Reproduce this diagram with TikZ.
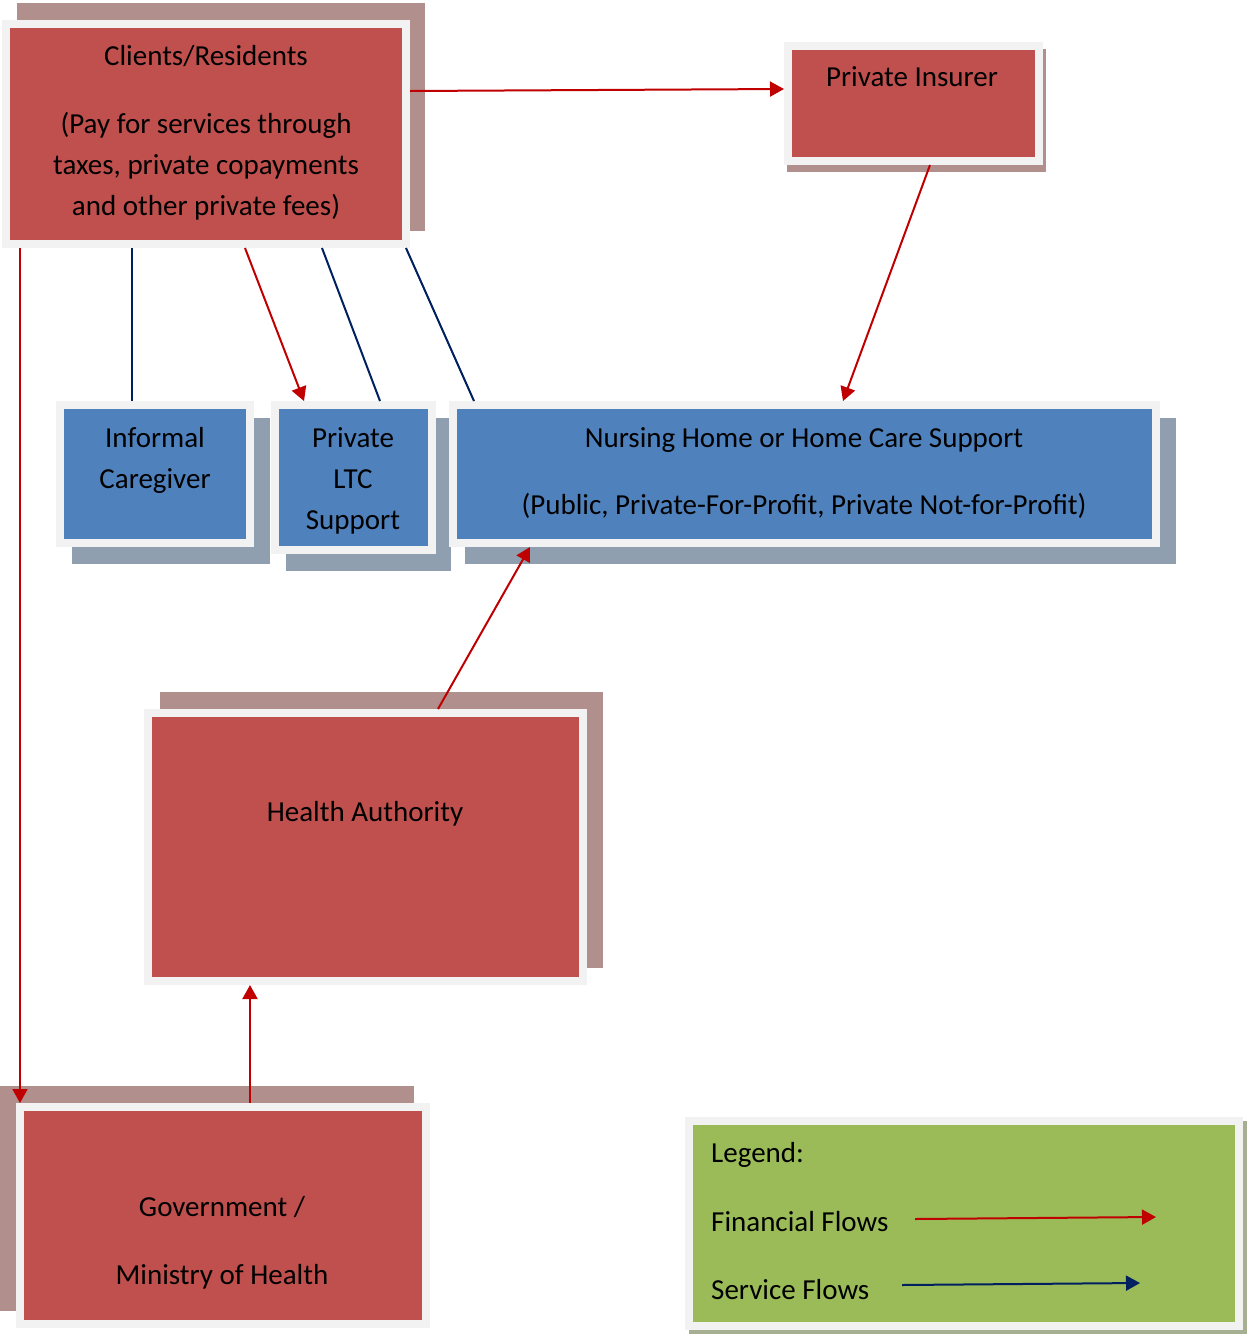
\documentclass[tikz,border=0pt]{standalone}
\usepackage{fontspec}
\setmainfont{Carlito}
\usepackage{tikz}
\usetikzlibrary{positioning,shadows,arrows.meta}

\definecolor{boxred}{HTML}{C0504D}
\definecolor{redshade}{HTML}{B08F8D}
\definecolor{boxblue}{HTML}{4F81BD}
\definecolor{blueshade}{HTML}{8F9FAF}
\definecolor{boxgreen}{HTML}{9BBB59}
\definecolor{greenshade}{HTML}{A6AF92}
\definecolor{rim}{HTML}{F2F2F2}
\definecolor{finred}{HTML}{C00000}
\definecolor{servnavy}{HTML}{002060}

\begin{document}
\begin{tikzpicture}[x=1pt,y=-1pt,
  redbox/.style={rectangle, draw=rim, line width=8pt, fill=boxred, inner sep=0pt},
  bluebox/.style={rectangle, draw=rim, line width=8pt, fill=boxblue, inner sep=0pt},
  greenbox/.style={rectangle, draw=rim, line width=8pt, fill=boxgreen, inner sep=0pt},
  shade/.style n args={3}{general shadow={fill=#1, draw=#1, line width=8pt, shadow xshift=#2, shadow yshift=#3}},
  txt/.style={align=center, inner sep=0pt, font=\fontsize{29}{41}\selectfont},
  finflow/.style={draw=finred, line width=2pt, -{Triangle[length=14pt,width=15pt]}},
  servflow/.style={draw=servnavy, line width=2pt},
]
\useasboundingbox (0,0) rectangle (1247,1334);

% boxes
\node(cli) [redbox, shade={redshade}{15pt}{17pt}, minimum width=400pt, minimum height=220pt] at (206,134) {};
\node(ins) [redbox, shade={redshade}{3pt}{-7pt}, minimum width=251pt, minimum height=115pt] at (913.5,103.5) {};
\node(inf) [bluebox, shade={blueshade}{16pt}{-17pt}, minimum width=190pt, minimum height=138pt] at (155,474) {};
\node(ltc) [bluebox, shade={blueshade}{15pt}{-17pt}, minimum width=157pt, minimum height=145pt] at (353.5,477.5) {};
\node(nur) [bluebox, shade={blueshade}{16pt}{-17pt}, minimum width=703pt, minimum height=138pt] at (804.5,474) {};
\node(ha) [redbox, shade={redshade}{16pt}{17pt}, minimum width=435pt, minimum height=268pt] at (365.5,847) {};
\node(gov) [redbox, shade={redshade}{-16pt}{17pt}, minimum width=406pt, minimum height=217pt] at (223,1215.5) {};
\node(leg) [greenbox, shade={greenshade}{4pt}{-4pt}, minimum width=550pt, minimum height=205pt] at (964,1223.5) {};

% texts
\node(cliT) [txt] at (206,133) {Clients/Residents\\[27pt](Pay for services through\\taxes, private copayments\\and other private fees)};
\node(insT) [txt] at (912,77) {Private Insurer};
\node(infT) [txt] at (155,460) {Informal\\Caregiver};
\node(ltcT) [txt] at (353,481) {Private\\LTC\\Support};
\node(nurT) [txt] at (804,473) {Nursing Home or Home Care Support\\[26pt](Public, Private-For-Profit, Private Not-for-Profit)};
\node(haT) [txt] at (365,814) {Health Authority};
\node(govT) [txt] at (222,1243) {Government /\\[27pt]Ministry of Health};
\node(legT) [txt, anchor=west] at (711,1155) {Legend:};
\node(finT) [txt, anchor=west] at (711,1222) {Financial Flows};
\node(servT) [txt, anchor=west] at (711,1290) {Service Flows};

% flows
\draw[finflow] ([yshift=43pt]cli.east) -- ([yshift=14.5pt]ins.west);
\draw[finflow] ([xshift=-186pt]cli.south) -- ([xshift=-203pt]gov.north);
\draw[servflow] ([xshift=-74pt]cli.south) -- ([xshift=-23pt]inf.north);
\draw[finflow] ([xshift=39pt]cli.south) -- ([xshift=-49.5pt]ltc.north);
\draw[servflow] ([xshift=116pt]cli.south) -- ([xshift=26.5pt]ltc.north);
\draw[servflow] ([xshift=200pt]cli.south) -- ([xshift=-330.5pt]nur.north);
\draw[finflow] ([xshift=16.5pt]ins.south) -- ([xshift=38.5pt]nur.north);
\draw[finflow] ([xshift=72.5pt]ha.north) -- ([xshift=-274.5pt]nur.south);
\draw[finflow] ([xshift=27pt]gov.north) -- ([xshift=-115.5pt]ha.south);

% legend arrows
\coordinate (finA) at (915,1219);
\coordinate (finB) at (1156,1217);
\coordinate (servA) at (902,1285);
\coordinate (servB) at (1140,1283);
\draw[finflow] (finA) -- (finB);
\draw[servflow, -{Triangle[length=14pt,width=15pt]}] (servA) -- (servB);

\end{tikzpicture}
\end{document}
